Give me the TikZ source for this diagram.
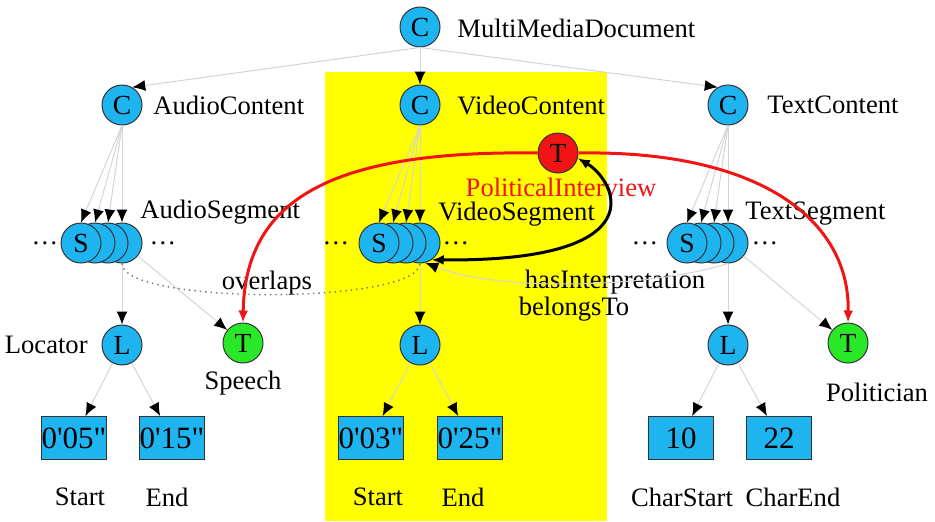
\documentclass[tikz,border=0pt]{standalone}
\usepackage{fontspec}
\setmainfont{Liberation Serif}
\usetikzlibrary{arrows.meta,positioning}
\definecolor{segblue}{RGB}{30,180,240}
\definecolor{tred}{RGB}{240,20,20}
\definecolor{tgreen}{RGB}{40,232,40}
\definecolor{bgyellow}{RGB}{255,255,0}
\definecolor{edgegray}{RGB}{212,212,212}

\begin{document}
\begin{tikzpicture}[
	x=0.5pt,
	y=-0.5pt,
	circ/.style={circle, draw=black!80, line width=0.5pt, minimum size=20pt, inner sep=0pt, font=\fontsize{13.8}{14}\selectfont},
	cnode/.style={circ, fill=segblue},
	tnode/.style={circ, fill=tgreen},
	pnode/.style={circ, fill=tred},
	valbox/.style={rectangle, draw=black!80, fill=segblue, line width=0.5pt, minimum width=32.5pt, minimum height=21.5pt, inner sep=0pt, font=\fontsize{15.5}{16}\selectfont},
	lbl/.style={inner sep=1pt, font=\fontsize{13.3}{14}\selectfont},
	tip/.style={-{Latex[length=6.5pt,width=5.5pt,black]}},
	edge/.style={draw=edgegray, line width=0.5pt, tip},
	redarc/.style={draw=tred, line width=1.5pt, -{Latex[length=6pt,width=5pt]}},
	blkarc/.style={draw=black, line width=1.5pt, {Latex[length=6pt,width=5pt]}-{Latex[length=6pt,width=5pt]}},
	ovl/.style={draw=black!55, dotted, line width=0.7pt}
]
	\useasboundingbox (0,0) rectangle (935,521);
	\fill[bgyellow] (325,72) rectangle (607,521);

	\node[cnode] (mmd) at (420,27) {C};
	\node[cnode] (ac) at (122,105) {C};
	\node[cnode] (vc) at (420,105) {C};
	\node[cnode] (tc) at (728,105) {C};
	\node[lbl, anchor=west] (mmdtxt) at (455,28) {MultiMediaDocument};
	\node[lbl, anchor=west] (actxt) at (151,105) {AudioContent};
	\node[lbl, anchor=west] (vctxt) at (455,105) {VideoContent};
	\node[lbl, anchor=west] (tctxt) at (765,105) {TextContent};

	\node[cnode] (as4) at (122,243) {};
	\node[cnode] (as3) at (108,243) {};
	\node[cnode] (as2) at (95,243) {};
	\node[cnode] (as1) at (81,243) {S};
	\node[cnode] (vs4) at (420,243) {};
	\node[cnode] (vs3) at (406,243) {};
	\node[cnode] (vs2) at (393,243) {};
	\node[cnode] (vs1) at (379,243) {S};
	\node[cnode] (ts4) at (728,243) {};
	\node[cnode] (ts3) at (714,243) {};
	\node[cnode] (ts2) at (701,243) {};
	\node[cnode] (ts1) at (687,243) {S};
	\node[lbl, anchor=west] (astxt) at (138,212) {AudioSegment};
	\node[lbl, anchor=west] (vstxt) at (436,214) {VideoSegment};
	\node[lbl, anchor=west] (tstxt) at (743,214) {TextSegment};
	\node[lbl] (adl) at (45,243) {\dots};
	\node[lbl] (adr) at (163,243) {\dots};
	\node[lbl] (vdl) at (336,243) {\dots};
	\node[lbl] (vdr) at (456,243) {\dots};
	\node[lbl] (tdl) at (645,243) {\dots};
	\node[lbl] (tdr) at (765,243) {\dots};

	\node[pnode] (pi) at (558,153) {T};
	\node[lbl, text=tred] (pitxt) at (561,187) {PoliticalInterview};

	\node[cnode] (al) at (122,345) {L};
	\node[cnode] (vl) at (420,345) {L};
	\node[cnode] (tl) at (728,345) {L};
	\node[lbl, anchor=east] (altxt) at (90,345) {Locator};
	\node[tnode] (sp) at (243,343) {T};
	\node[tnode] (pol) at (848,343) {T};
	\node[lbl] (sptxt) at (243,383) {Speech};
	\node[lbl] (poltxt) at (877,392) {Politician};

	\node[valbox] (ab1) at (74,438) {0\textquotesingle05\textquotedbl};
	\node[valbox] (ab2) at (172,438) {0\textquotesingle15\textquotedbl};
	\node[valbox] (vb1) at (371,438) {0\textquotesingle03\textquotedbl};
	\node[valbox] (vb2) at (470,438) {0\textquotesingle25\textquotedbl};
	\node[valbox] (tb1) at (681,438) {10};
	\node[valbox] (tb2) at (779,438) {22};
	\node[lbl] (ab1txt) at (80,497) {Start};
	\node[lbl] (ab2txt) at (167,497) {End};
	\node[lbl] (vb1txt) at (378,497) {Start};
	\node[lbl] (vb2txt) at (463,497) {End};
	\node[lbl] (tb1txt) at (682,497) {CharStart};
	\node[lbl] (tb2txt) at (793,497) {CharEnd};

	\node[lbl] (ovltxt) at (267,283) {overlaps};
	\node[lbl, inner sep=0pt] (hitxt) at (615,282) {hasInterpretation};
	\node[lbl, inner sep=0pt] (bttxt) at (574,309) {belongsTo};

	\draw[edge] (mmd.south) -- (ac.60);
	\draw[edge] (mmd) -- (vc);
	\draw[edge] (mmd.south) -- (tc.120);

	\draw[edge] (ac.south) -- (as1.north);
	\draw[edge] (ac.south) -- (as2.north);
	\draw[edge] (ac.south) -- (as3.north);
	\draw[edge] (ac.south) -- (as4.north);
	\draw[edge] (vc.south) -- (vs1.north);
	\draw[edge] (vc.south) -- (vs2.north);
	\draw[edge] (vc.south) -- (vs3.north);
	\draw[edge] (vc.south) -- (vs4.north);
	\draw[edge] (tc.south) -- (ts1.north);
	\draw[edge] (tc.south) -- (ts2.north);
	\draw[edge] (tc.south) -- (ts3.north);
	\draw[edge] (tc.south) -- (ts4.north);

	\draw[edge] (as4) -- (al);
	\draw[edge] (vs4) -- (vl);
	\draw[edge] (ts4) -- (tl);
	\draw[edge] (as4) -- (sp);
	\draw[edge] (ts4) -- (pol);

	\draw[edge] (al) -- (ab1);
	\draw[edge] (al) -- (ab2);
	\draw[edge] (vl) -- (vb1);
	\draw[edge] (vl) -- (vb2);
	\draw[edge] (tl) -- (tb1);
	\draw[edge] (tl) -- (tb2);

	\draw[ovl] (as4.south) .. controls (122,305) and (418,305) .. (vs4.south);
	\draw[edge] (ts4.south) .. controls (650,288) and (500,292) .. (vs4.-75);
	\draw[blkarc] (vs4.-55) .. controls (660,262) and (615,180) .. (pi.-15);
	\draw[redarc] (pi.west) .. controls (330,150) and (245,200) .. (sp.north);
	\draw[redarc] (pi.east) .. controls (760,150) and (850,220) .. (pol.north);
\end{tikzpicture}
\end{document}
